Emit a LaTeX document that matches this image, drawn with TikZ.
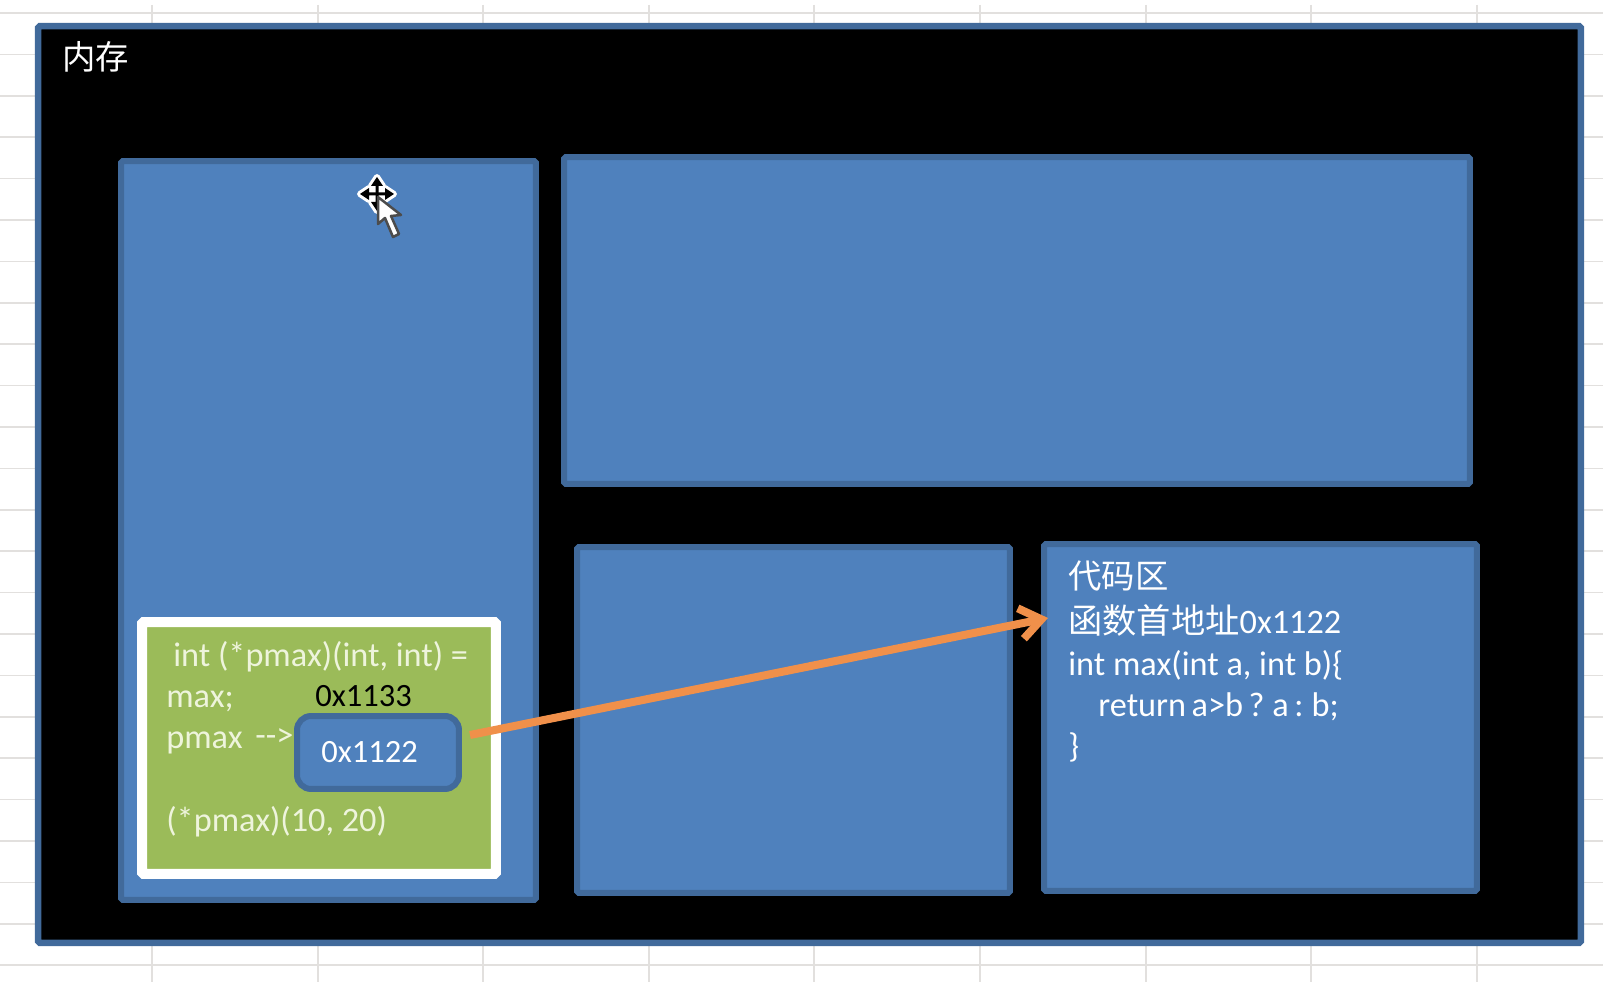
\documentclass[tikz,border=0pt]{standalone}
\usepackage{fontspec}
\setmainfont{Carlito}
\newfontfamily\cjk{Noto Sans CJK SC}
\usetikzlibrary{arrows.meta}
\definecolor{memfill}{HTML}{4F81BD}
\definecolor{memline}{HTML}{416A9B}
\definecolor{cellgreen}{HTML}{9BBB59}
\definecolor{celltext}{HTML}{EEF4DC}
\definecolor{linkorange}{HTML}{F0904A}
\definecolor{sheetgrid}{HTML}{E2E0DE}
\tikzset{
  membox/.style={draw=memline, fill=memfill, line width=0.12cm, rounded corners=1pt},
  memtext/.style={anchor=west, inner sep=0pt, text=white, font=\fontsize{19.5}{22}\selectfont},
  celllabel/.style={memtext, text=celltext},
  cjklabel/.style={memtext, font=\cjk\fontsize{19}{22}\selectfont},
  addrlabel/.style={memtext, font=\fontsize{18.5}{22}\selectfont},
  cursorhalo/.style={fill=white, draw=white, line width=0.12cm, line join=round},
  cursorarm/.style={fill=black}
}

\begin{document}
\begin{tikzpicture}[x=0.02cm, y=-0.02cm]
            \useasboundingbox (0,0) rectangle (1620,982);
            \fill[white] (0,0) rectangle (1620,982);

            % Sheet grid
            \foreach \rowy in {13,54.4,...,982} {
                \draw[sheetgrid, line width=0.03cm] (0,\rowy) -- (1603,\rowy);
            }
            \foreach \colx in {152,318,483,649,814,980,1146,1311,1477} {
                \draw[sheetgrid, line width=0.03cm] (\colx,5) -- (\colx,982);
            }

            % Memory
            \node[membox, fill=black, line width=0.13cm, minimum width=30.86cm, minimum height=18.34cm] (memory) at (809.5,484.5) {};
            \node[cjklabel] (memorylabel) at (62,57) {内存};

            % Regions
            \node[membox, minimum width=8.3cm, minimum height=14.78cm] (stack) at (328.5,530.5) {};
            \node[membox, minimum width=18.12cm, minimum height=6.54cm] (heap) at (1017,320.5) {};
            \node[membox, minimum width=8.66cm, minimum height=6.92cm] (data) at (793.5,720) {};
            \node[membox, minimum width=8.66cm, minimum height=6.94cm] (code) at (1260.5,717.5) {};

            % Pointer variable
            \node[draw=white, fill=cellgreen, line width=0.2cm, rounded corners=1pt, minimum width=7.08cm, minimum height=5.04cm] (pmaxcell) at (319,748) {};
            \node[draw=memline, fill=memfill, line width=0.12cm, rounded corners=8pt, minimum width=3.24cm, minimum height=1.46cm] (pmaxvalue) at (378,752.5) {};
            \node[celllabel] (declone) at (173,657) {int (*pmax)(int, int) =};
            \node[celllabel] (decltwo) at (166,701) {max;};
            \node[addrlabel, text=black] (pmaxaddr) at (315,696) {0x1133};
            \node[celllabel] (pmaxname) at (166,743) {pmax};
            \node[celllabel] (pmaxmark) at (255,738) {-{}->};
            \node[addrlabel] (pmaxtext) at (321,752) {0x1122};
            \node[celllabel] (pmaxcall) at (166,822) {(*pmax)(10, 20)};

            % Code text
            \node[cjklabel] (codetitle) at (1068,576) {代码区};
            \node[memtext] (funcaddr) at (1068,620) {{\cjk 函数首地址}0x1122};
            \node[memtext] (funchead) at (1068,665) {int max(int a, int b)\{};
            \node[memtext] (funcbody) at (1098,707) {\spaceskip=0.16em return a>b ? a : b;};
            \node[memtext] (funcend) at (1068,747) {\}};

            % Link
            \coordinate (linkstart) at (470,735);
            \coordinate (linkend) at (1048,618);
            \draw[-{Straight Barb[length=0.42cm, width=0.62cm]}, linkorange, line width=0.16cm] (linkstart) -- (linkend);

            % Cursor
            \foreach \turn in {0,90,180,270} {
                \draw[cursorhalo, rotate around={\turn:(377,194)}] (374,194) -- (374,186) -- (371,186) -- (377,177) -- (383,186) -- (380,186) -- (380,194) -- cycle;
            }
            \foreach \turn in {0,90,180,270} {
                \fill[cursorarm, rotate around={\turn:(377,194)}] (375.5,194) -- (375.5,186) -- (371,186) -- (377,177) -- (383,186) -- (378.5,186) -- (378.5,194) -- cycle;
            }
            \draw[fill=white, draw=black!70, line width=0.05cm, line join=round] (378,197) -- (378,224) -- (385,218) -- (393,237) -- (399,234) -- (391,216) -- (401,215) -- cycle;
        \end{tikzpicture}
\end{document}
